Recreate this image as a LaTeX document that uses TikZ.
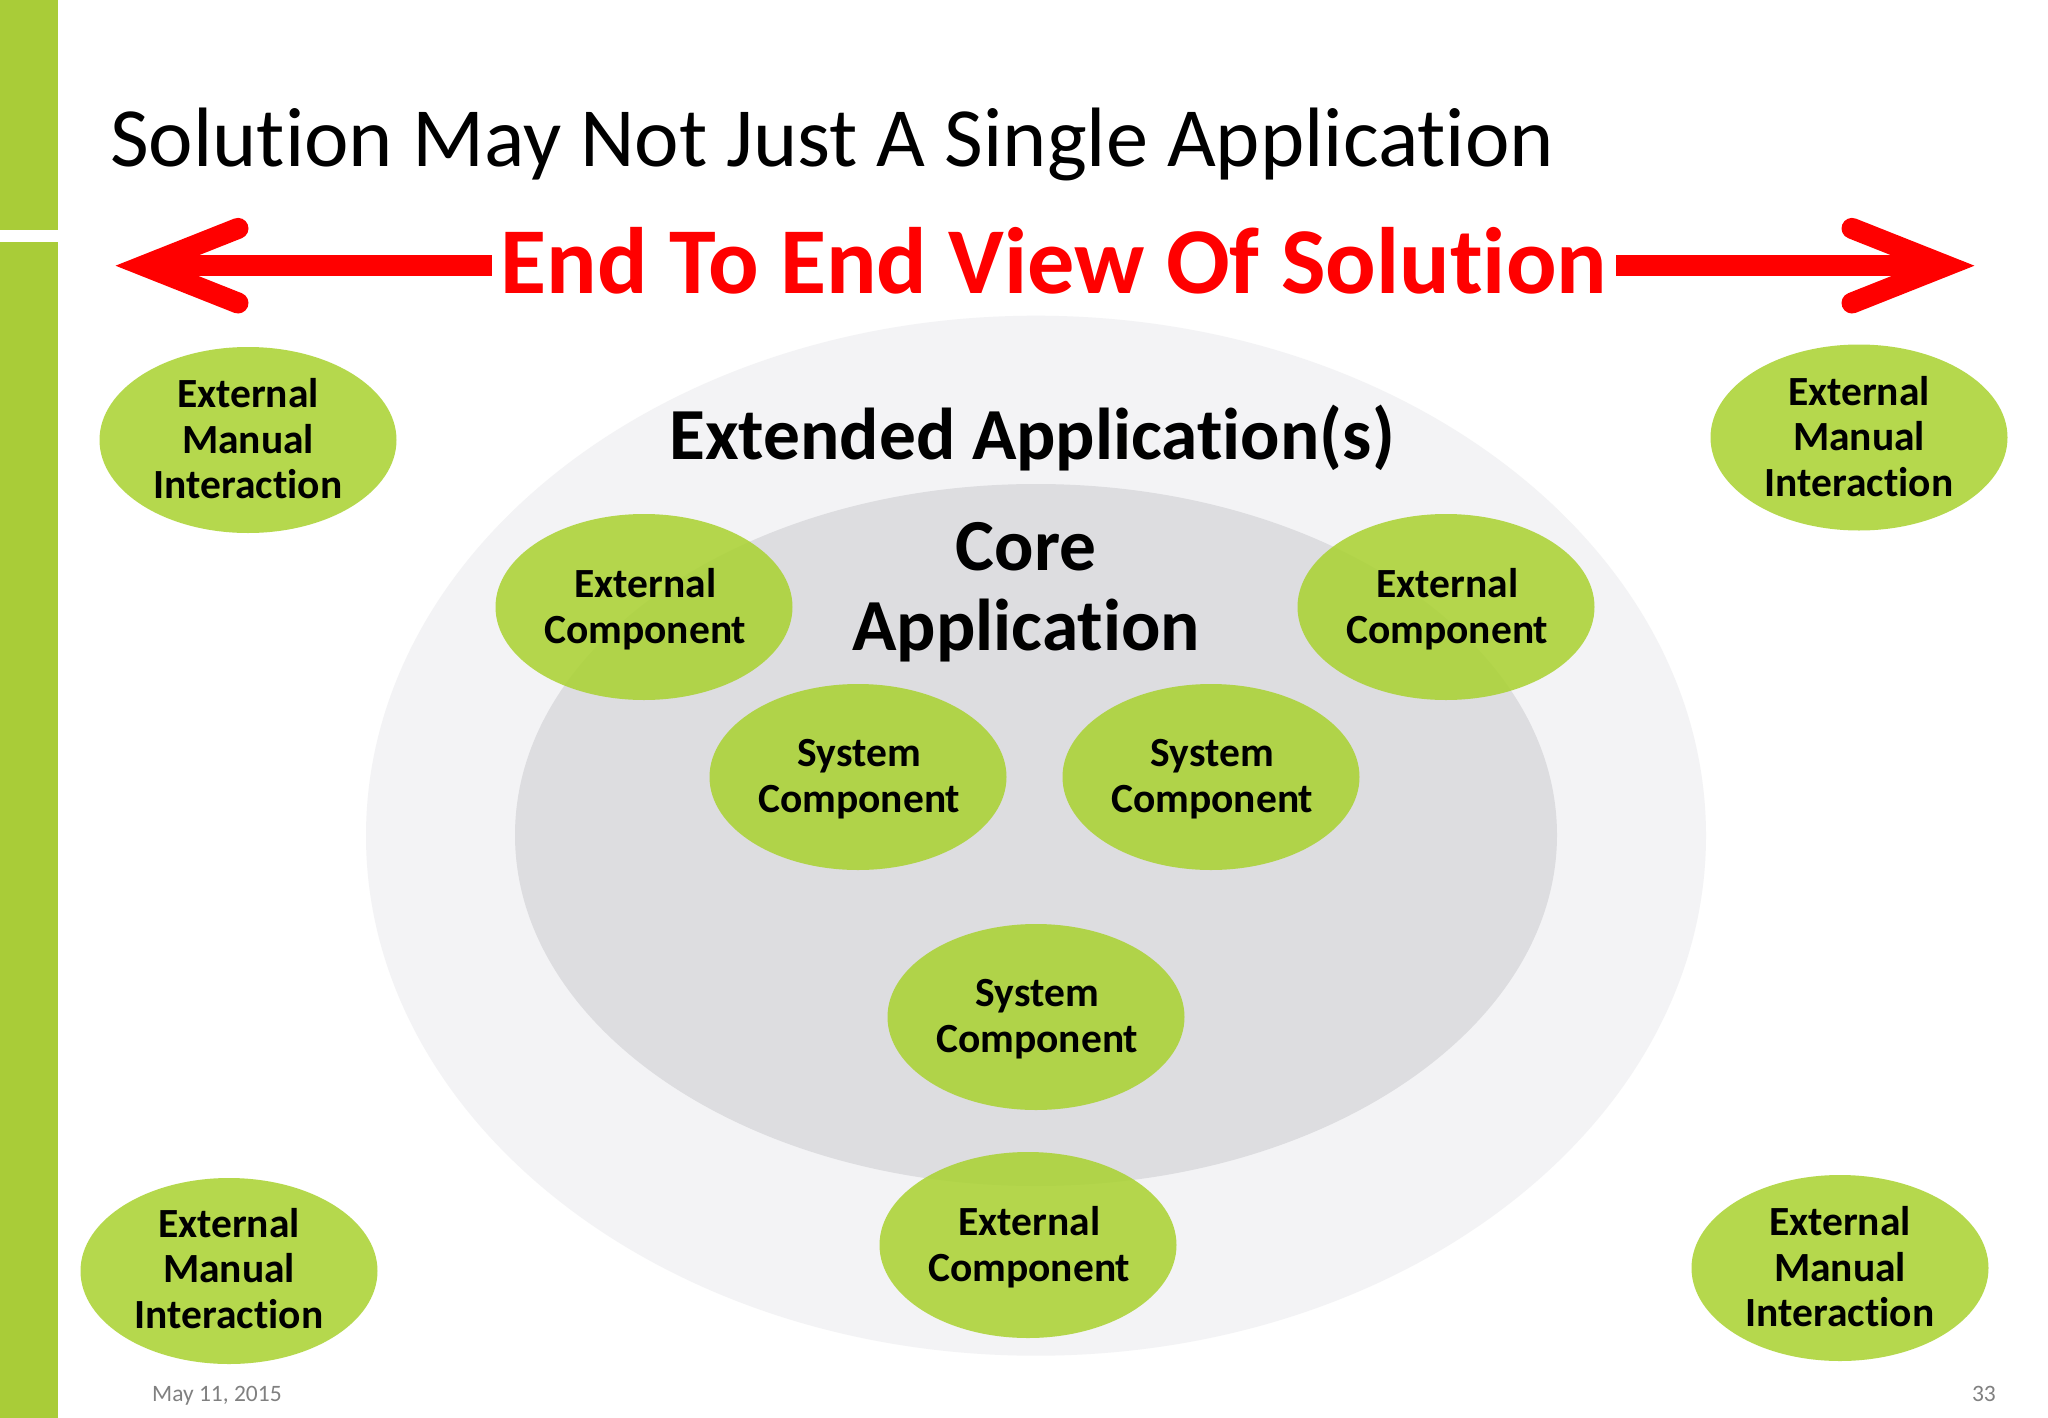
\documentclass[tikz,border=0pt]{standalone}
\usepackage{fontspec}
\setmainfont{Carlito}[Ligatures=NoCommon]
\usetikzlibrary{shapes.geometric}
\definecolor{bar}{HTML}{A9CC38}
\definecolor{blob}{HTML}{A9D22F}
\definecolor{outerg}{HTML}{F3F3F5}
\definecolor{innerg}{HTML}{DDDDE0}
\newcommand\twolines[2]{\hspace*{2.6pt}#1\\\hspace*{2.6pt}\smash{#2}\rule[-2.7pt]{0pt}{0pt}}
\newcommand\manualtext[1]{External\\Manual\\Interaction\rule[-#1pt]{0pt}{0pt}}
\tikzset{
  x=1pt,y=-1pt,
  blob/.style={ellipse,fill=blob,fill opacity=.85,text opacity=1,draw=none,inner sep=0pt,inner ysep=-16pt,minimum width=297pt,minimum height=186pt,align=center,font=\fontsize{41.5}{45.7}\selectfont\bfseries},
  zone/.style={ellipse,draw=none,inner sep=0pt},
  head/.style={font=\fontsize{73.4}{80}\selectfont\bfseries,align=center,inner sep=0pt},
  foot/.style={font=\fontsize{23.5}{27}\selectfont,text=black!50,inner sep=0pt,anchor=base},
  redline/.style={draw=red,line width=21pt},
  redtip/.style={draw=red,line width=21pt,line cap=round,line join=miter,miter limit=10},
}
\begin{document}
\begin{tikzpicture}
\useasboundingbox (0,0) rectangle (2048,1418);
\fill[white] (0,0) rectangle (2048,1418);
\fill[bar] (0,0) rectangle (58,230);
\fill[bar] (0,242) rectangle (58,1418);
\node[font=\fontsize{84.3}{90}\selectfont,anchor=base west,inner sep=0pt] (title) at (110,166) {Solution May Not Just A Single Application};
\node[font=\fontsize{94.3}{100}\selectfont\bfseries,text=red,inner sep=0pt,minimum width=1124pt] (endview) at (1054,261) {End To End View Of Solution};
\coordinate (lv) at (144,265.7);
\coordinate (ltop) at (238,228.4);
\coordinate (lbot) at (238,303);
\coordinate (rv) at (1946,265.7);
\coordinate (rtop) at (1852,228.4);
\coordinate (rbot) at (1852,303);
\draw[redline] (endview.west |- lv) -- (lv);
\draw[redline] (endview.east |- rv) -- (rv);
\draw[redtip] (ltop) -- (lv) -- (lbot);
\draw[redtip] (rtop) -- (rv) -- (rbot);
\node[zone,fill=outerg,minimum width=1340pt,minimum height=1040pt] (outerz) at (1036,835.7) {};
\node[zone,fill=innerg,minimum width=1042pt,minimum height=702pt] (innerz) at (1036,835) {};
\node[head,anchor=base] (ext) at (1032,459.5) {Extended Application(s)};
\node[head,anchor=base] (core1) at (1026,570.5) {Core};
\node[head,anchor=base] (core2) at (1026,650.5) {Application};
\node[blob] (m1) at (248,440) {\manualtext{2.6}};
\node[blob] (m2) at (1859,437.5) {\manualtext{2.6}};
\node[blob] (m3) at (229,1271) {\manualtext{5.2}};
\node[blob] (m4) at (1840,1268) {\manualtext{2.6}};
\node[blob] (e1) at (644,607) {\twolines{External}{Component}};
\node[blob] (e2) at (1446,607) {\twolines{External}{Component}};
\node[blob] (e3) at (1028,1245) {\twolines{External}{Component}};
\node[blob] (s1) at (858,777) {\twolines{System}{Component}};
\node[blob] (s2) at (1211,777) {\twolines{System}{Component}};
\node[blob] (s3) at (1036,1017) {\twolines{System}{Component}};
\node[foot,anchor=base west] (date) at (152,1401) {May 11, 2015};
\node[foot,anchor=base east] (page) at (1996,1401) {33};
\end{tikzpicture}
\end{document}
